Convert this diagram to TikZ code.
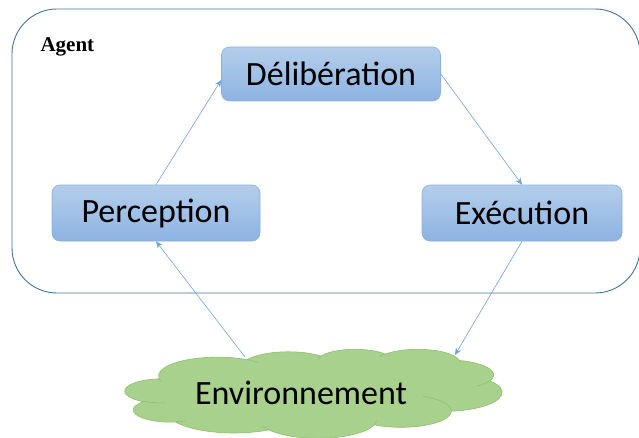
\documentclass[tikz,border=0pt]{standalone}
\usepackage{fontspec}
\setmainfont{Carlito}
\newfontfamily\agentfont{Liberation Serif}
\usetikzlibrary{arrows.meta,calc}
\definecolor{agentline}{HTML}{41719C}
\definecolor{boxtop}{HTML}{B4CEEB}
\definecolor{boxbot}{HTML}{8DB3E2}
\definecolor{boxline}{HTML}{8AB0DE}
\definecolor{arrowc}{HTML}{6FA3DA}
\definecolor{cloudfill}{HTML}{A9D18E}
\definecolor{cloudline}{HTML}{8DBF6E}
\tikzset{
  stepbox/.style={draw=boxline, line width=0.6pt, rounded corners=8pt,
    top color=boxtop, bottom color=boxbot, inner sep=0pt,
    font=\fontsize{34}{37}\selectfont},
  conn/.style={draw=arrowc, line width=0.6pt, -{Stealth[length=7pt,width=6pt]}},
}
% elliptical arc with DrawingML-style (visual) angles
\newcommand\carc[4]{arc[x radius=#1, y radius=#2,
  start angle={atan2((#1)*sin(#3),(#2)*cos(#3))},
  delta angle={Mod(atan2((#1)*sin((#3)+(#4)),(#2)*cos((#3)+(#4)))-atan2((#1)*sin(#3),(#2)*cos(#3))-(#4)+180,360)-180+(#4)}]}
\begin{document}
\begin{tikzpicture}[x=1pt,y=1pt]
\useasboundingbox (0,0) rectangle (639,437);
\draw[agentline, line width=0.9pt, rounded corners=45pt] (12,144) rectangle (640,428);
\node[anchor=west, font=\agentfont\bfseries\fontsize{21}{24}\selectfont] (agent) at (37,390) {Agent};
\node[stepbox, minimum width=219pt, minimum height=54pt] (delib) at (331,363) {Délibération};
\node[stepbox, minimum width=208pt, minimum height=56pt] (per) at (156,224) {Perception};
\node[stepbox, minimum width=200pt, minimum height=56pt] (exe) at (522,224) {Exécution};
% cloud (Office preset geometry)
\begin{scope}[shift={(125,88)}, x=377pt/43.2, y=-89pt/43.2]
  \path[draw=cloudline, fill=cloudfill, line width=0.6pt]
    (3.900,14.370) \carc{6.753}{9.190}{-190.487}{123.781}
    \carc{5.333}{7.267}{-144.102}{89.945}
    \carc{4.365}{5.945}{-145.808}{99.723}
    \carc{4.857}{6.595}{-130.986}{117.242}
    \carc{5.333}{7.273}{-78.709}{109.027}
    \carc{6.775}{9.220}{-46.267}{130.269}
    \carc{5.785}{7.867}{0.625}{114.033}
    \carc{6.752}{9.215}{22.452}{115.173}
    \carc{7.720}{10.543}{66.243}{75.711}
    \carc{4.360}{5.918}{-274.942}{146.736}
    \carc{4.345}{5.945}{-246.829}{152.519}
    -- cycle;
  \path[draw=cloudline, line width=0.6pt]
    (4.693,26.177) \carc{4.345}{5.945}{86.742}{26.430}
    (6.928,34.899) \carc{4.360}{5.918}{73.610}{11.447}
    (16.478,39.090) \carc{6.752}{9.215}{137.624}{14.081}
    (28.827,34.751) \carc{6.752}{9.215}{6.453}{15.998}
    (34.129,22.954) \carc{5.785}{7.867}{-70.292}{70.917}
    (41.798,15.354) \carc{5.333}{7.273}{30.318}{27.752}
    (38.324,5.426) \carc{4.857}{6.595}{-13.744}{14.859}
    (29.078,3.952) \carc{4.857}{6.595}{-149.181}{18.195}
    (22.141,4.720) \carc{4.365}{5.945}{-163.494}{17.686}
    (14.000,5.192) \carc{6.753}{9.190}{-66.707}{12.319}
    (4.127,15.789) \carc{6.753}{9.190}{157.654}{11.858};
\end{scope}
\coordinate (envc) at (313,45);
\node[font=\fontsize{34}{37}\selectfont] (envt) at (301,44) {Environnement};
\coordinate (envin) at (455,82);
\coordinate (envout) at (245,80);
\draw[conn] (per.north) -- ([yshift=-6pt]delib.west);
\draw[conn] (delib.east) -- (exe.north);
\draw[conn] (exe.south) -- (envin);
\draw[conn] (envout) -- (per.south);
\end{tikzpicture}
\end{document}
